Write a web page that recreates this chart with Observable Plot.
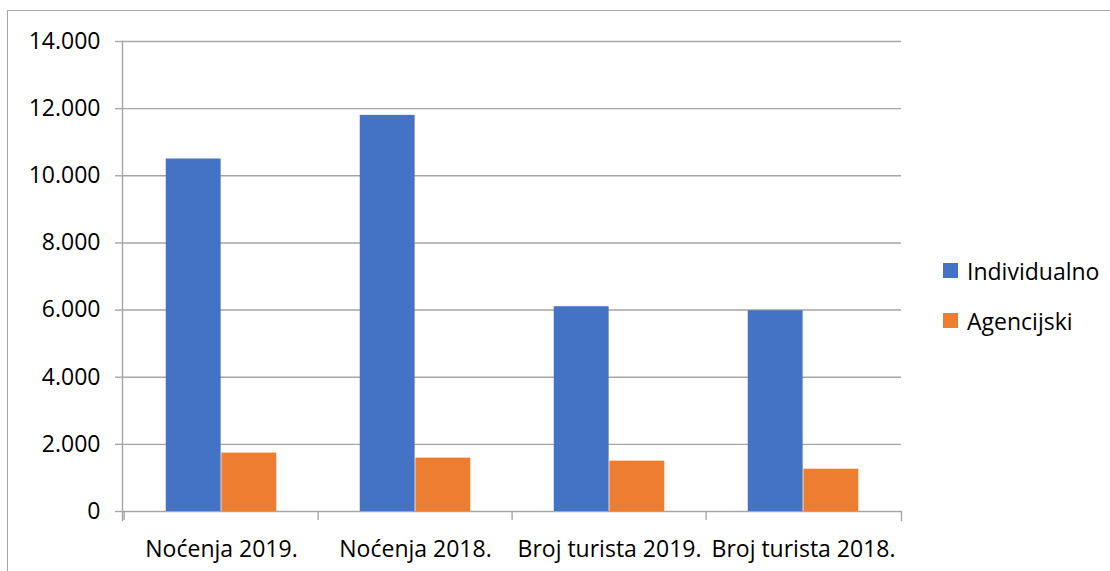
<!DOCTYPE html>
<html>
<head>
<meta charset="utf-8">
<script src="https://cdn.jsdelivr.net/npm/d3@7"></script>
<script src="https://cdn.jsdelivr.net/npm/@observablehq/plot@0.6"></script>
<style>
  body { margin: 0; background: #fff; }
  #wrap { position: relative; width: 1110px; height: 571px; overflow: hidden; font-family: "Open Sans", sans-serif; }
  #border { position: absolute; left: 7px; top: 10px; right: -20px; bottom: -20px; border-top: 1.5px solid #a6a6a6; border-left: 1.5px solid #a6a6a6; }
  #chart { position: absolute; left: 0; top: 0; }
  .leg { position: absolute; left: 943px; display: flex; align-items: center; height: 15px; gap: 9px; font-size: 23px; color: #000; white-space: nowrap; }
  .sw { width: 15px; height: 15px; flex: none; }
</style>
</head>
<body>
<div id="wrap">
  <div id="border"></div>
  <div id="chart"></div>
  <div id="legend"></div>
</div>
<script>
const categories = ["Noćenja 2019.", "Noćenja 2018.", "Broj turista 2019.", "Broj turista 2018."];
const series = ["Individualno", "Agencijski"];
const individualno = [10500, 11800, 6100, 5980];
const agencijski = [1740, 1590, 1500, 1260];
const yTicks = [0, 2000, 4000, 6000, 8000, 10000, 12000, 14000];
const colors = ["#4472C4", "#ED7D31"];

const rowsInd = categories.map((c, i) => ({category: c, series: series[0], value: individualno[i]}));
const rowsAg = categories.map((c, i) => ({category: c, series: series[1], value: agencijski[i]}));

const width = 1110, height = 571;
const marginLeft = 122, marginRight = 209, marginTop = 41, marginBottom = 60;
const band = (width - marginLeft - marginRight) / categories.length;
const unit = band / 3.5; // Excel gap width 150%
const gray = "#a6a6a6";

const fmt = d3.formatLocale({decimal: ",", thousands: ".", grouping: [3], currency: ["", ""]}).format(",");

const chart = Plot.plot({
  width, height, marginLeft, marginRight, marginTop, marginBottom,
  style: {fontFamily: "Open Sans", fontSize: "23px", color: "#000", background: "transparent"},
  x: {domain: categories, padding: 0, axis: null, label: null},
  y: {domain: [0, 14000], axis: null, label: null},
  marks: [
    Plot.gridY(yTicks, {stroke: gray, strokeOpacity: 1, strokeWidth: 1.4}),
    Plot.barY(rowsInd, {x: "category", y: "value", fill: colors[0], insetLeft: 0.75 * unit, insetRight: 1.75 * unit}),
    Plot.barY(rowsAg, {x: "category", y: "value", fill: colors[1], insetLeft: 1.75 * unit, insetRight: 0.75 * unit}),
    Plot.frame({anchor: "left", insetBottom: -9, stroke: gray, strokeWidth: 1.4}),
    Plot.frame({anchor: "right", insetTop: height - marginTop - marginBottom, insetBottom: -9, stroke: gray, strokeWidth: 1.4}),
    Plot.axisY(yTicks, {tickSize: 7, tickPadding: 15, tickFormat: fmt, fontSize: 23, stroke: gray, strokeWidth: 1.4, fill: "#000", label: null}),
    Plot.axisX(categories, {tickSize: 9, text: null, dx: -band / 2, stroke: gray, strokeWidth: 1.4, label: null}),
    Plot.axisX(categories, {tickSize: 0, tickPadding: 29, fontSize: 23, fill: "#000", label: null})
  ]
});
document.getElementById("chart").appendChild(chart);

const legend = document.getElementById("legend");
const legTops = [263, 313];
series.forEach((s, i) => {
  const item = document.createElement("div");
  item.className = "leg";
  item.style.top = legTops[i] + "px";
  const sw = document.createElement("div");
  sw.className = "sw";
  sw.style.background = colors[i];
  const t = document.createElement("span");
  t.textContent = s;
  item.appendChild(sw);
  item.appendChild(t);
  legend.appendChild(item);
});
</script>
</body>
</html>
